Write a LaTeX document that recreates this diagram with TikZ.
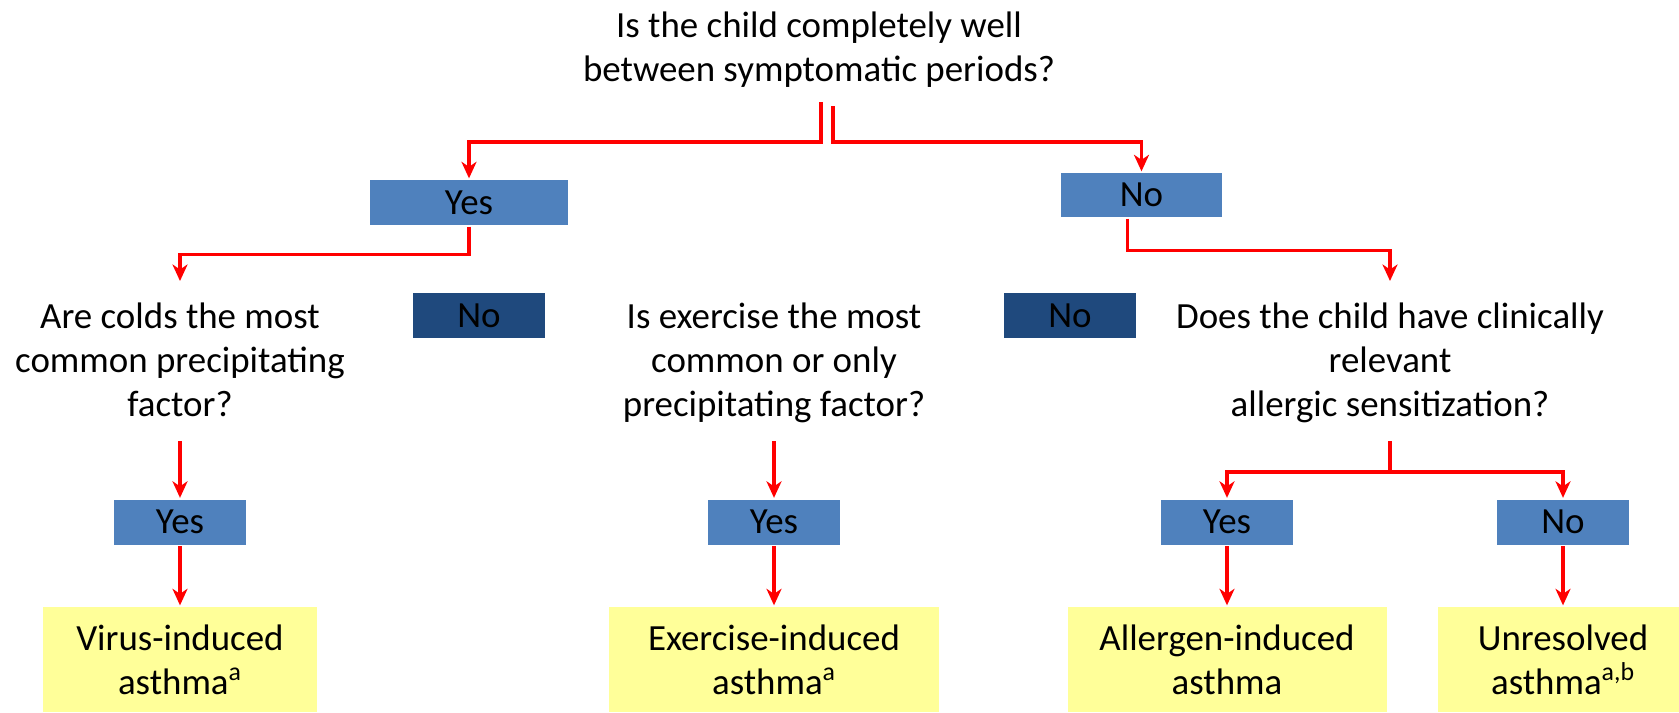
\documentclass[tikz,border=0pt]{standalone}
\usepackage{fontspec}
\setmainfont{Carlito}
\usetikzlibrary{arrows.meta}
\newcommand{\flowfont}{\fontsize{21}{25}\selectfont}
\definecolor{ansblue}{HTML}{4F81BD}
\definecolor{ansdark}{HTML}{1F497D}
\definecolor{endyellow}{HTML}{FFFF99}
\definecolor{flowred}{HTML}{FF0000}

\begin{document}
\begin{tikzpicture}[x=0.2mm, y=-0.2mm, ->, >={Stealth[length=3.3mm, width=3mm, inset=1mm]},
  line width=1.9pt, draw=flowred, font=\flowfont,
  question/.style={align=center, inner sep=0pt, text=black, anchor=north},
  ansbox/.style={fill=ansblue, text=black, inner sep=0pt, minimum width=26.4mm, minimum height=9mm},
  darkbox/.style={fill=ansdark, text=black, inner sep=0pt, minimum width=26.4mm, minimum height=9mm},
  endbox/.style={fill=endyellow, text=black, align=center, inner sep=0pt, minimum height=21mm}]
  \clip (0,0) rectangle (1679,712);

  \node[question] (q1) at (819,5) {\strut Is the child completely well\\between symptomatic periods?\strut};
  \node[ansbox, minimum width=39.6mm] (yes1) at (469,202.5) {Yes};
  \node[ansbox, minimum width=32.2mm, minimum height=8.8mm] (no1) at (1141.5,195) {No};

  \node[question] (q2) at (180,296) {\strut Are colds the most\\common precipitating\\factor?\strut};
  \node[darkbox] (no2) at (479,315.5) {No};
  \node[question] (q3) at (774,296) {\strut Is exercise the most\\common or only\\precipitating factor?\strut};
  \node[darkbox] (no3) at (1070,315.5) {No};
  \node[question] (q4) at (1390,296) {\strut Does the child have clinically\\relevant\\allergic sensitization?\strut};

  \node[ansbox] (yes2) at (180,522) {Yes};
  \node[ansbox] (yes3) at (774,522) {Yes};
  \node[ansbox] (yes4) at (1227,522) {Yes};
  \node[ansbox] (no4) at (1563,522) {No};

  \node[endbox, minimum width=54.8mm] (virus) at (180,659.5) {Virus-induced\\asthma\textsuperscript{a}};
  \node[endbox, minimum width=66mm] (exercise) at (774,659.5) {Exercise-induced\\asthma\textsuperscript{a}};
  \node[endbox, minimum width=63.8mm] (allergen) at (1227,659.5) {Allergen-induced\\asthma};
  \node[endbox, minimum width=50mm] (unresolved) at (1563,659.5) {Unresolved\\asthma\textsuperscript{a,b}};

  \coordinate (q1l) at (821,102);
  \coordinate (q1r) at (833,106);
  \draw (q1l) -- ++(0,40) -| (yes1);
  \draw (q1r) -- ++(0,36) -| (no1);
  \draw[shorten >=3mm] (yes1.south) -- ++(0,28) -| (q2);
  \draw[shorten >=3mm] ([xshift=-2.8mm]no1.south) -- ++(0,32) -| (q4);

  \path (q2) edge[shorten <=2mm] (yes2);
  \path (q3) edge[shorten <=2mm] (yes3);
  \draw[shorten <=2mm] (q4.south) -- ++(0,41) -| (yes4);
  \draw[shorten <=2mm] (q4.south) -- ++(0,41) -| (no4);

  \path (yes2) edge (virus);
  \path (yes3) edge (exercise);
  \path (yes4) edge (allergen);
  \path (no4) edge (unresolved);
\end{tikzpicture}
\end{document}
